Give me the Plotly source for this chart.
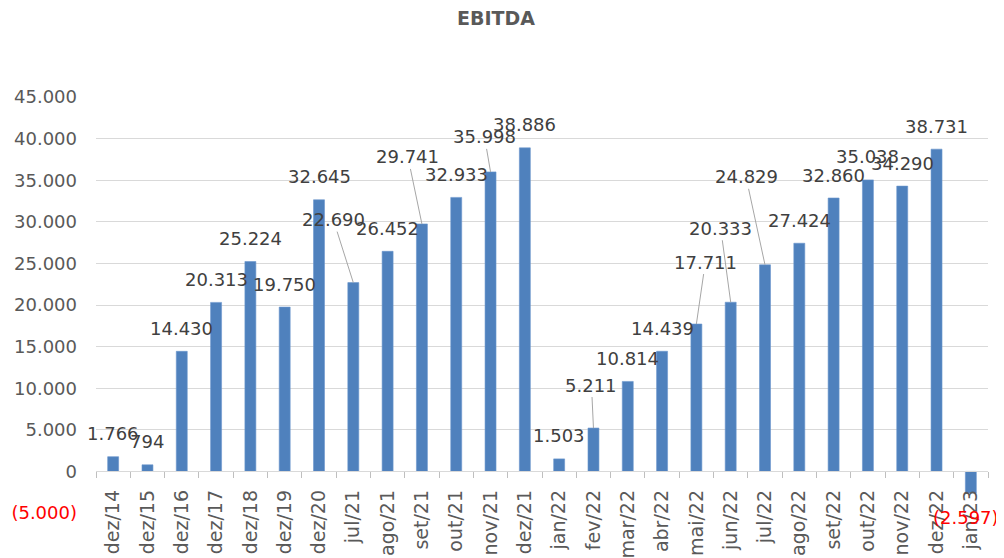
import plotly.graph_objects as go

categories = ["dez/14", "dez/15", "dez/16", "dez/17", "dez/18", "dez/19", "dez/20",
              "jul/21", "ago/21", "set/21", "out/21", "nov/21", "dez/21",
              "jan/22", "fev/22", "mar/22", "abr/22", "mai/22", "jun/22", "jul/22",
              "ago/22", "set/22", "out/22", "nov/22", "dez/22", "jan/23"]
ebitda = [1766, 794, 14430, 20313, 25224, 19750, 32645,
          22690, 26452, 29741, 32933, 35998, 38886,
          1503, 5211, 10814, 14439, 17711, 20333, 24829,
          27424, 32860, 35038, 34290, 38731, -2597]
y_ticks = [-5000, 0, 5000, 10000, 15000, 20000, 25000, 30000, 35000, 40000, 45000]

# label offsets (pixels) for labels that Excel moved away from the bar (leader lines)
moved_labels = {
    "jul/21": (-20, -63),
    "set/21": (-14, -67),
    "nov/21": (-6, -35),
    "fev/22": (-2, -43),
    "mai/22": (9, -62),
    "jun/22": (-10, -74),
    "jul/22": (-19, -88),
}

FONT = "DejaVu Sans"
GRAY = "#595959"
RED = "#ff0000"


def fmt(v):
    s = f"{abs(v):,}".replace(",", ".")
    return f"({s})" if v < 0 else s


def tick_text(v):
    s = fmt(v)
    if v < 0:
        return f'<span style="color:{RED}">{s}</span>'
    return s


fig = go.Figure()
fig.add_trace(go.Bar(
    x=categories, y=ebitda,
    marker=dict(color="#4f81bd", line=dict(color="#6a95cc", width=0.6)),
    hoverinfo="x+y",
))

annotations = []
for c, v in zip(categories, ebitda):
    color = RED if v < 0 else "#404040"
    if c in moved_labels:
        ax, ay = moved_labels[c]
        annotations.append(dict(
            x=c, y=v, xref="x", yref="y", text=fmt(v), showarrow=True,
            ax=ax, ay=ay, arrowhead=0, arrowwidth=1, arrowcolor="#a6a6a6",
            standoff=0, startstandoff=0,
            font=dict(family=FONT, size=18, color=color),
        ))
    else:
        annotations.append(dict(
            x=c, y=v, xref="x", yref="y", text=fmt(v), showarrow=False,
            yanchor="middle", yshift=23 if v >= 0 else -24,
            xshift=0 if v >= 0 else -5,
            font=dict(family=FONT, size=18, color=color),
        ))

# the page body has an 8px margin, so the figure is 8px smaller and margins compensate
fig.update_layout(
    width=996, height=550,
    margin=dict(l=88, r=16, t=89, b=45, autoexpand=False),
    paper_bgcolor="white", plot_bgcolor="white",
    title=dict(text="<b>EBITDA</b>", x=0.49, xanchor="center", y=0.982, yanchor="middle",
               font=dict(family=FONT, size=19, color=GRAY)),
    bargap=0.68,
    showlegend=False,
    annotations=annotations,
    xaxis=dict(
        type="category", anchor="free", position=0.1, automargin=False,
        range=[-0.5, len(categories) - 0.5], autorange=False,
        showline=True, linecolor="#d9d9d9", linewidth=1,
        ticks="outside", tickson="boundaries", ticklen=6, tickcolor="#bfbfbf",
        tickangle=-90, ticklabelstandoff=10,
        tickfont=dict(family=FONT, size=19, color=GRAY),
        showgrid=False,
    ),
    yaxis=dict(
        range=[-5000, 45000], automargin=False,
        tickvals=y_ticks, ticktext=[tick_text(v) for v in y_ticks],
        showgrid=True, gridcolor="#d9d9d9", gridwidth=1,
        zeroline=True, zerolinecolor="#d9d9d9", zerolinewidth=1,
        showline=False, ticks="", ticklabelstandoff=18,
        tickfont=dict(family=FONT, size=18, color=GRAY),
    ),
)

fig.write_html("out.html")
